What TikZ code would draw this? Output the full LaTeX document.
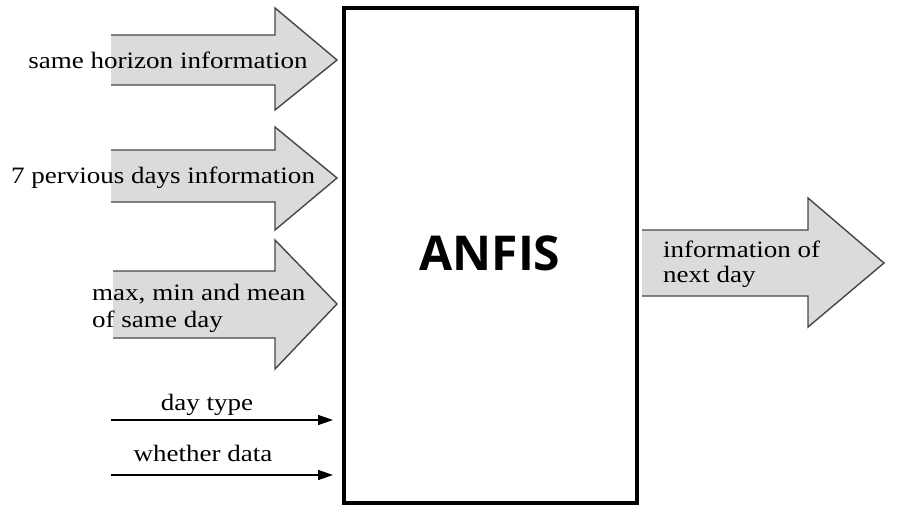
\documentclass[tikz,border=0pt]{standalone}
\usepackage{fontspec}
\setmainfont{Liberation Serif}
\newfontfamily\labfont{Liberation Serif}[FakeStretch=1.15]
\newfontfamily\titlefont{Open Sans}
\usetikzlibrary{arrows.meta}
\tikzset{
  blockfill/.style={fill=gray!28},
  blockline/.style={draw=gray!55!black, line width=1.4pt, line join=miter},
  lab/.style={font=\labfont\fontsize{23.5}{27}\selectfont, inner sep=0pt, align=left},
  thinarrow/.style={line width=1.4pt, -{Triangle[length=15pt,width=10pt]}},
  boxstyle/.style={draw, line width=4pt, minimum width=293pt, minimum height=495pt, inner sep=0pt}
}
\begin{document}
\begin{tikzpicture}[x=1pt,y=-1pt]
\useasboundingbox (0,0) rectangle (907,506);
% ANFIS box
\node[boxstyle] (anfis) at (490.5,255.5) {};
\node[font=\titlefont\bfseries\fontsize{48}{52}\selectfont, inner sep=0pt, anchor=base] (title) at (490,270) {ANFIS};
% block arrow 1
\fill[blockfill] (111,35) -- (275,35) -- (275,8) -- (337,60) -- (275,110) -- (275,85) -- (111,85) -- cycle;
\draw[blockline] (111,35) -- (275,35) -- (275,8) -- (337,60) -- (275,110) -- (275,85) -- (111,85);
% block arrow 2
\fill[blockfill] (111,150) -- (275,150) -- (275,127) -- (337,178) -- (275,230) -- (275,202) -- (111,202) -- cycle;
\draw[blockline] (111,150) -- (275,150) -- (275,127) -- (337,178) -- (275,230) -- (275,202) -- (111,202);
% block arrow 3
\fill[blockfill] (113,271) -- (275,271) -- (275,240) -- (337,304) -- (275,369) -- (275,338) -- (113,338) -- cycle;
\draw[blockline] (113,271) -- (275,271) -- (275,240) -- (337,304) -- (275,369) -- (275,338) -- (113,338);
% output block arrow
\fill[blockfill] (642,230) -- (808,230) -- (808,198) -- (884,263) -- (808,327) -- (808,296) -- (642,296) -- cycle;
\draw[blockline] (642,230) -- (808,230) -- (808,198) -- (884,263) -- (808,327) -- (808,296) -- (642,296);
% labels
\node[lab, anchor=base] (l1) at (168,68) {same horizon information};
\node[lab, anchor=base] (l2) at (163,183) {7 pervious days information};
\node[lab, anchor=base west] (l3a) at (92,300) {max, min and mean};
\node[lab, anchor=base west] (l3b) at (92,327) {of same day};
\node[lab, anchor=base west] (l4a) at (663,257) {information of};
\node[lab, anchor=base west] (l4b) at (663,282) {next day};
% thin arrows
\coordinate (d1s) at (111,420);
\coordinate (d1e) at (333,420);
\coordinate (d2s) at (111,475);
\coordinate (d2e) at (333,475);
\draw[thinarrow] (d1s) -- (d1e);
\draw[thinarrow] (d2s) -- (d2e);
\node[lab, anchor=base] (l5) at (207,410) {day type};
\node[lab, anchor=base] (l6) at (203,461) {whether data};
\end{tikzpicture}
\end{document}
